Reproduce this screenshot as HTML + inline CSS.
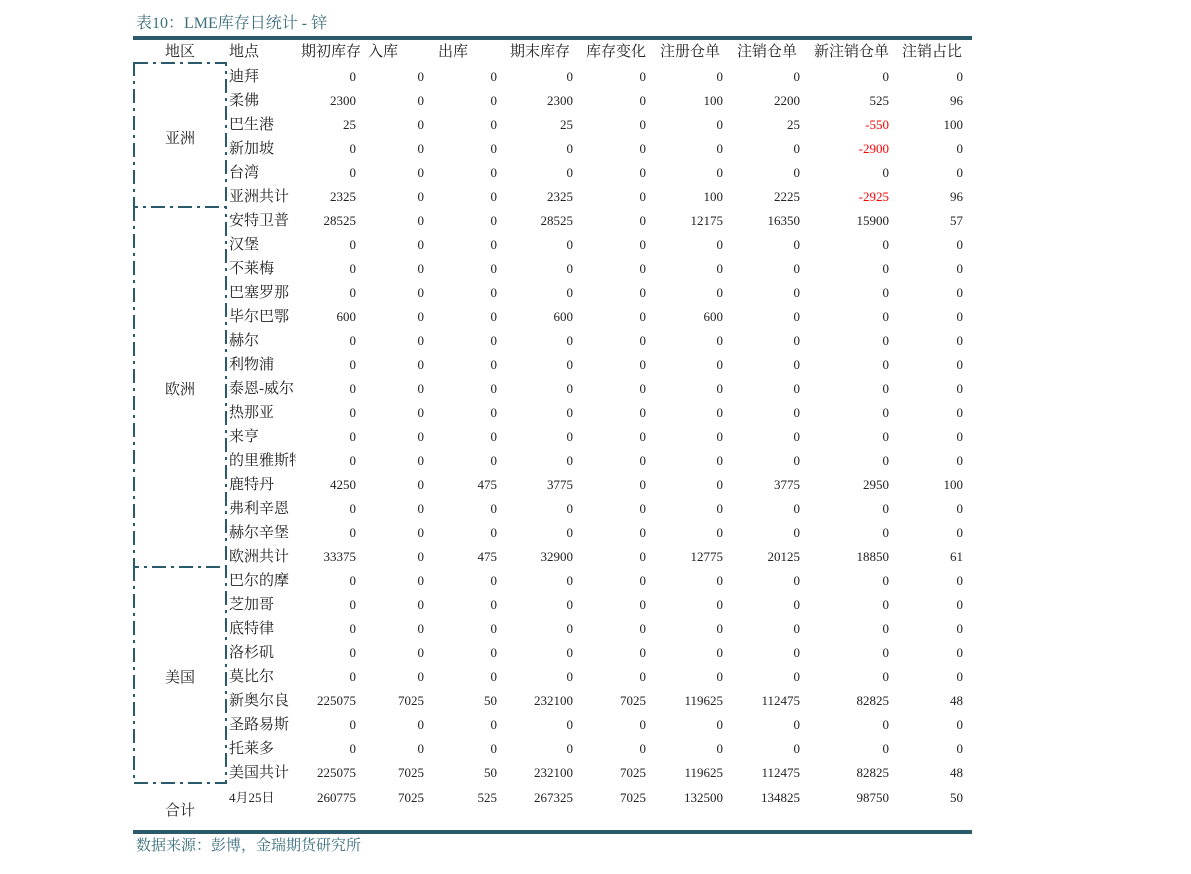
<!DOCTYPE html>
<html><head><meta charset="utf-8"><style>
body{margin:0;width:1191px;height:874px;background:#fff;position:relative;overflow:hidden;font-family:"Liberation Serif","Noto Serif CJK SC",serif;color:#222}
.t{position:absolute;white-space:nowrap;line-height:20px}
.h{position:absolute;top:42px;font-size:15px;line-height:20px;white-space:nowrap}
.r{position:absolute;left:229px;height:24px;line-height:24px;font-size:13px;white-space:nowrap;margin-top:1px}
.r i{font-style:normal;display:inline-block;width:67px;overflow:hidden;font-size:15px;vertical-align:top}
.r b{font-weight:normal;display:inline-block;text-align:right;vertical-align:top}
.r b:nth-of-type(1){width:60px}.r b:nth-of-type(2){width:68px}.r b:nth-of-type(3){width:73px}.r b:nth-of-type(4){width:76px}.r b:nth-of-type(5){width:73px}.r b:nth-of-type(6){width:77px}.r b:nth-of-type(7){width:77px}.r b:nth-of-type(8){width:89px}.r b:nth-of-type(9){width:74px}
.red{color:#f00}
.reg{position:absolute;left:150px;width:60px;text-align:center;font-size:15px}
</style></head><body>
<div class="t" style="left:136px;top:14px;font-size:16px;color:#3d6f7d">表10：LME库存日统计 - 锌</div>
<div style="position:absolute;left:133px;top:36px;width:839px;height:4px;background:#2b5b6a"></div>
<div style="position:absolute;left:133px;top:830px;width:839px;height:4px;background:#2b5b6a"></div>
<div class="t" style="left:136px;top:836px;font-size:15px;color:#3d6f7d">数据来源：彭博，金瑞期货研究所</div>
<div class="h" style="left:165px">地区</div><div class="h" style="left:229px">地点</div>
<div class="h" style="left:301px">期初库存</div><div class="h" style="left:368px">入库</div>
<div class="h" style="left:438px">出库</div><div class="h" style="left:510px">期末库存</div>
<div class="h" style="left:586px">库存变化</div><div class="h" style="left:660px">注册仓单</div>
<div class="h" style="left:737px">注销仓单</div><div class="h" style="left:814px">新注销仓单</div>
<div class="h" style="left:902px">注销占比</div>
<svg style="position:absolute;left:0;top:0" width="1191" height="874">
<g stroke="#2b5b6a" stroke-width="2" fill="none" stroke-dasharray="14,5,3,5">
<path d="M134 63H226V207H134Z"/><path d="M134 207V567H226V207"/><path d="M134 567V783H226V567"/>
</g></svg>
<div class="reg" style="top:127px">亚洲</div>
<div class="reg" style="top:378px">欧洲</div>
<div class="reg" style="top:666px">美国</div>
<div class="reg" style="top:799px">合计</div>
<div class="r" style="top:64px"><i>迪拜</i><b>0</b><b>0</b><b>0</b><b>0</b><b>0</b><b>0</b><b>0</b><b>0</b><b>0</b></div>
<div class="r" style="top:88px"><i>柔佛</i><b>2300</b><b>0</b><b>0</b><b>2300</b><b>0</b><b>100</b><b>2200</b><b>525</b><b>96</b></div>
<div class="r" style="top:112px"><i>巴生港</i><b>25</b><b>0</b><b>0</b><b>25</b><b>0</b><b>0</b><b>25</b><b class="red">-550</b><b>100</b></div>
<div class="r" style="top:136px"><i>新加坡</i><b>0</b><b>0</b><b>0</b><b>0</b><b>0</b><b>0</b><b>0</b><b class="red">-2900</b><b>0</b></div>
<div class="r" style="top:160px"><i>台湾</i><b>0</b><b>0</b><b>0</b><b>0</b><b>0</b><b>0</b><b>0</b><b>0</b><b>0</b></div>
<div class="r" style="top:184px"><i>亚洲共计</i><b>2325</b><b>0</b><b>0</b><b>2325</b><b>0</b><b>100</b><b>2225</b><b class="red">-2925</b><b>96</b></div>
<div class="r" style="top:208px"><i>安特卫普</i><b>28525</b><b>0</b><b>0</b><b>28525</b><b>0</b><b>12175</b><b>16350</b><b>15900</b><b>57</b></div>
<div class="r" style="top:232px"><i>汉堡</i><b>0</b><b>0</b><b>0</b><b>0</b><b>0</b><b>0</b><b>0</b><b>0</b><b>0</b></div>
<div class="r" style="top:256px"><i>不莱梅</i><b>0</b><b>0</b><b>0</b><b>0</b><b>0</b><b>0</b><b>0</b><b>0</b><b>0</b></div>
<div class="r" style="top:280px"><i>巴塞罗那</i><b>0</b><b>0</b><b>0</b><b>0</b><b>0</b><b>0</b><b>0</b><b>0</b><b>0</b></div>
<div class="r" style="top:304px"><i>毕尔巴鄂</i><b>600</b><b>0</b><b>0</b><b>600</b><b>0</b><b>600</b><b>0</b><b>0</b><b>0</b></div>
<div class="r" style="top:328px"><i>赫尔</i><b>0</b><b>0</b><b>0</b><b>0</b><b>0</b><b>0</b><b>0</b><b>0</b><b>0</b></div>
<div class="r" style="top:352px"><i>利物浦</i><b>0</b><b>0</b><b>0</b><b>0</b><b>0</b><b>0</b><b>0</b><b>0</b><b>0</b></div>
<div class="r" style="top:376px"><i>泰恩-威尔</i><b>0</b><b>0</b><b>0</b><b>0</b><b>0</b><b>0</b><b>0</b><b>0</b><b>0</b></div>
<div class="r" style="top:400px"><i>热那亚</i><b>0</b><b>0</b><b>0</b><b>0</b><b>0</b><b>0</b><b>0</b><b>0</b><b>0</b></div>
<div class="r" style="top:424px"><i>来亨</i><b>0</b><b>0</b><b>0</b><b>0</b><b>0</b><b>0</b><b>0</b><b>0</b><b>0</b></div>
<div class="r" style="top:448px"><i>的里雅斯特</i><b>0</b><b>0</b><b>0</b><b>0</b><b>0</b><b>0</b><b>0</b><b>0</b><b>0</b></div>
<div class="r" style="top:472px"><i>鹿特丹</i><b>4250</b><b>0</b><b>475</b><b>3775</b><b>0</b><b>0</b><b>3775</b><b>2950</b><b>100</b></div>
<div class="r" style="top:496px"><i>弗利辛恩</i><b>0</b><b>0</b><b>0</b><b>0</b><b>0</b><b>0</b><b>0</b><b>0</b><b>0</b></div>
<div class="r" style="top:520px"><i>赫尔辛堡</i><b>0</b><b>0</b><b>0</b><b>0</b><b>0</b><b>0</b><b>0</b><b>0</b><b>0</b></div>
<div class="r" style="top:544px"><i>欧洲共计</i><b>33375</b><b>0</b><b>475</b><b>32900</b><b>0</b><b>12775</b><b>20125</b><b>18850</b><b>61</b></div>
<div class="r" style="top:568px"><i>巴尔的摩</i><b>0</b><b>0</b><b>0</b><b>0</b><b>0</b><b>0</b><b>0</b><b>0</b><b>0</b></div>
<div class="r" style="top:592px"><i>芝加哥</i><b>0</b><b>0</b><b>0</b><b>0</b><b>0</b><b>0</b><b>0</b><b>0</b><b>0</b></div>
<div class="r" style="top:616px"><i>底特律</i><b>0</b><b>0</b><b>0</b><b>0</b><b>0</b><b>0</b><b>0</b><b>0</b><b>0</b></div>
<div class="r" style="top:640px"><i>洛杉矶</i><b>0</b><b>0</b><b>0</b><b>0</b><b>0</b><b>0</b><b>0</b><b>0</b><b>0</b></div>
<div class="r" style="top:664px"><i>莫比尔</i><b>0</b><b>0</b><b>0</b><b>0</b><b>0</b><b>0</b><b>0</b><b>0</b><b>0</b></div>
<div class="r" style="top:688px"><i>新奥尔良</i><b>225075</b><b>7025</b><b>50</b><b>232100</b><b>7025</b><b>119625</b><b>112475</b><b>82825</b><b>48</b></div>
<div class="r" style="top:712px"><i>圣路易斯</i><b>0</b><b>0</b><b>0</b><b>0</b><b>0</b><b>0</b><b>0</b><b>0</b><b>0</b></div>
<div class="r" style="top:736px"><i>托莱多</i><b>0</b><b>0</b><b>0</b><b>0</b><b>0</b><b>0</b><b>0</b><b>0</b><b>0</b></div>
<div class="r" style="top:760px"><i>美国共计</i><b>225075</b><b>7025</b><b>50</b><b>232100</b><b>7025</b><b>119625</b><b>112475</b><b>82825</b><b>48</b></div>
<div class="r" style="top:785px"><i style="font-size:13px">4月25日</i><b>260775</b><b>7025</b><b>525</b><b>267325</b><b>7025</b><b>132500</b><b>134825</b><b>98750</b><b>50</b></div>
</body></html>
